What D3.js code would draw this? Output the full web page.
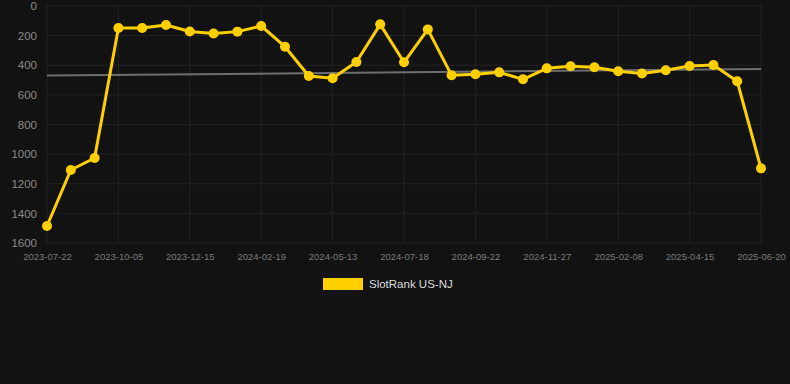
<!DOCTYPE html>
<html><head><meta charset="utf-8">
<script src="https://cdn.jsdelivr.net/npm/d3@7"></script>
<style>html,body{margin:0;padding:0;background:#121212;}svg{display:block;}</style>
</head><body><svg id="c" width="790" height="384"></svg>
<script>
const dates = ["2023-07-22","2023-08-16","2023-09-10","2023-10-05","2023-10-29","2023-11-22","2023-12-15","2024-01-06","2024-01-28","2024-02-19","2024-03-15","2024-04-18","2024-05-13","2024-06-05","2024-06-27","2024-07-18","2024-08-08","2024-08-30","2024-09-22","2024-10-14","2024-11-05","2024-11-27","2024-12-21","2025-01-15","2025-02-08","2025-03-03","2025-03-24","2025-04-15","2025-05-07","2025-05-29","2025-06-20"];
const rank = [1485,1107,1026,149,149,128,172,186,173,135,275,473,488,378,124,380,158,468,461,448,495,421,407,414,441,455,434,405,398,508,1096];
const trend = [470,425];
const yTicks = [0,200,400,600,800,1000,1200,1400,1600];
const xTickLabels = ["2023-07-22","2023-10-05","2023-12-15","2024-02-19","2024-05-13","2024-07-18","2024-09-22","2024-11-27","2025-02-08","2025-04-15","2025-06-20"];
const seriesName = "SlotRank US-NJ";

const svg = d3.select("#c");
const L = 47, R = 761, T = 6, B = 243;
const x = d3.scalePoint().domain(dates).range([L, R]);
const y = d3.scaleLinear().domain([0,1600]).range([T, B]);
const font = "Liberation Sans, Arial, sans-serif";

// grid
svg.append("g").selectAll("line").data(yTicks).join("line")
  .attr("x1", L).attr("x2", R).attr("y1", d=>y(d)).attr("y2", d=>y(d))
  .attr("stroke", "#232323").attr("stroke-width", 1);
svg.append("g").selectAll("line").data(xTickLabels).join("line")
  .attr("x1", d=>x(d)).attr("x2", d=>x(d)).attr("y1", T).attr("y2", B)
  .attr("stroke", "#232323").attr("stroke-width", 1);

// y axis labels
const ya = svg.append("g").attr("transform", `translate(${L-10},0)`)
  .call(d3.axisLeft(y).tickValues(yTicks).tickFormat(d3.format("d")).tickSize(0).tickPadding(0));
ya.select(".domain").remove();
ya.selectAll("text").attr("fill", "#8a8a8a").style("font-family", font).style("font-size", "11.5px");

// x axis labels
const xa = svg.append("g").attr("transform", `translate(0,${B+10})`)
  .call(d3.axisBottom(x).tickValues(xTickLabels).tickSize(0).tickPadding(0));
xa.select(".domain").remove();
xa.selectAll("text").attr("fill", "#7a7a7a").style("font-family", font).style("font-size", "9.5px").attr("dy","0.71em");

// trend line
svg.append("line")
  .attr("x1", x(dates[0])).attr("x2", x(dates[dates.length-1]))
  .attr("y1", y(trend[0])).attr("y2", y(trend[1]))
  .attr("stroke", "#6e6e6e").attr("stroke-width", 2);

const col = "#ffd000";
svg.append("path").datum(rank)
  .attr("fill","none").attr("stroke",col).attr("stroke-width",3).attr("stroke-linejoin","round")
  .attr("d", d3.line().x((d,i)=>x(dates[i])).y(d=>y(d)));
svg.append("g").selectAll("circle").data(rank).join("circle")
  .attr("cx",(d,i)=>x(dates[i])).attr("cy",d=>y(d)).attr("r",5).attr("fill",col);

// legend
svg.append("rect").attr("x",323).attr("y",278).attr("width",40).attr("height",12).attr("fill",col);
svg.append("text").attr("x",369).attr("y",288).text(seriesName)
  .attr("fill","#dddddd").style("font-family",font).style("font-size","11.5px");
</script></body></html>
